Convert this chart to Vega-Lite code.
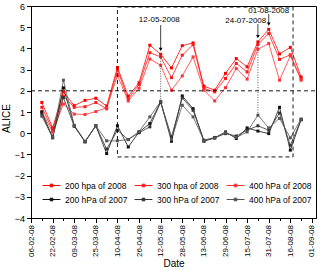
{
  "$schema": "https://vega.github.io/schema/vega-lite/v6.json",
  "width": 285,
  "height": 212,
  "autosize": {"type": "none"},
  "padding": {"left": 31, "top": 6, "right": 4, "bottom": 52},
  "config": {
    "font": "Liberation Sans",
    "view": {"stroke": "black", "strokeWidth": 1},
    "axis": {"domainColor": "black", "tickColor": "black", "labelColor": "black", "titleColor": "black", "grid": false, "titleFontWeight": "normal", "labelOverlap": false}
  },
  "datasets": {
    "main": [
      {"d": "2008/02/14", "r200": 1.45, "r300": 1.22, "r400": 1.02, "k200": 1.0, "k300": 0.9, "k400": 0.8},
      {"d": "2008/02/22", "r200": 0.25, "r300": 0.15, "r400": 0.05, "k200": -0.22, "k300": -0.18, "k400": -0.2},
      {"d": "2008/03/01", "r200": 1.95, "r300": 1.75, "r400": 1.38, "k200": 2.14, "k300": 1.68, "k400": 2.5},
      {"d": "2008/03/09", "r200": 1.3, "r300": 1.22, "r400": 0.9, "k200": 0.35, "k300": 0.33, "k400": 0.37},
      {"d": "2008/03/17", "r200": 1.55, "r300": 1.25, "r400": 0.88, "k200": -0.41, "k300": -0.4, "k400": -0.38},
      {"d": "2008/03/25", "r200": 1.65, "r300": 1.45, "r400": 1.02, "k200": 0.35, "k300": 0.35, "k400": 0.35},
      {"d": "2008/04/02", "r200": 1.28, "r300": 1.15, "r400": 1.2, "k200": -0.96, "k300": -0.75, "k400": -0.36},
      {"d": "2008/04/10", "r200": 3.1, "r300": 2.98, "r400": 2.72, "k200": 0.35, "k300": 0.14, "k400": -0.36},
      {"d": "2008/04/18", "r200": 1.75, "r300": 1.62, "r400": 1.52, "k200": -0.65, "k300": -0.3, "k400": -0.3},
      {"d": "2008/04/26", "r200": 2.38, "r300": 2.3, "r400": 2.12, "k200": 0.05, "k300": 0.02, "k400": 0.08},
      {"d": "2008/05/04", "r200": 4.15, "r300": 3.8, "r400": 3.5, "k200": 0.46, "k300": 0.3, "k400": 0.77},
      {"d": "2008/05/12", "r200": 3.72, "r300": 3.6, "r400": 3.2, "k200": 1.48, "k300": 1.46, "k400": 1.5},
      {"d": "2008/05/20", "r200": 3.08, "r300": 2.62, "r400": 2.03, "k200": -0.38, "k300": -0.17, "k400": -0.3},
      {"d": "2008/05/28", "r200": 4.13, "r300": 3.68, "r400": 2.7, "k200": 1.76, "k300": 1.67, "k400": 1.32},
      {"d": "2008/06/05", "r200": 4.26, "r300": 4.18, "r400": 3.6, "k200": 1.16, "k300": 1.08, "k400": 0.77},
      {"d": "2008/06/13", "r200": 2.22, "r300": 2.11, "r400": 2.03, "k200": -0.38, "k300": -0.33, "k400": -0.35},
      {"d": "2008/06/21", "r200": 2.03, "r300": 1.95, "r400": 1.52, "k200": -0.22, "k300": -0.2, "k400": -0.24},
      {"d": "2008/06/29", "r200": 2.82, "r300": 2.58, "r400": 2.15, "k200": 0.06, "k300": -0.02, "k400": 0.02},
      {"d": "2008/07/07", "r200": 3.52, "r300": 3.29, "r400": 3.05, "k200": -0.25, "k300": -0.13, "k400": -0.2},
      {"d": "2008/07/15", "r200": 3.13, "r300": 2.89, "r400": 2.55, "k200": 0.25, "k300": 0.14, "k400": 0.06},
      {"d": "2008/07/23", "r200": 4.31, "r300": 4.18, "r400": 3.96, "k200": 0.1, "k300": 0.35, "k400": 0.85},
      {"d": "2008/07/31", "r200": 4.9, "r300": 4.7, "r400": 4.23, "k200": -0.02, "k300": 0.14, "k400": 0.25},
      {"d": "2008/08/08", "r200": 3.74, "r300": 3.48, "r400": 2.5, "k200": 1.22, "k300": 0.95, "k400": 0.7},
      {"d": "2008/08/16", "r200": 4.05, "r300": 3.7, "r400": 3.65, "k200": -0.8, "k300": -0.57, "k400": -0.22},
      {"d": "2008/08/24", "r200": 2.65, "r300": 2.55, "r400": 2.5, "k200": 0.65, "k300": 0.63, "k400": 0.67}
    ]
  },
  "encoding": {
    "x": {
      "field": "d", "type": "temporal",
      "scale": {"domain": [{"year": 2008, "month": 2, "date": 6}, {"year": 2008, "month": 9, "date": 4}]},
      "axis": {
        "title": "Date", "titleFontSize": 10, "titlePadding": 2,
        "format": "%d-%m-%y", "labelAngle": -90, "labelFontSize": 8, "labelPadding": 2,
        "labelOverlap": false, "labelBound": false, "labelFlush": false,
        "values": [
          {"year": 2008, "month": 2, "date": 6}, {"year": 2008, "month": 2, "date": 14}, {"year": 2008, "month": 2, "date": 22},
          {"year": 2008, "month": 3, "date": 1}, {"year": 2008, "month": 3, "date": 9}, {"year": 2008, "month": 3, "date": 17},
          {"year": 2008, "month": 3, "date": 25}, {"year": 2008, "month": 4, "date": 2}, {"year": 2008, "month": 4, "date": 10},
          {"year": 2008, "month": 4, "date": 18}, {"year": 2008, "month": 4, "date": 26}, {"year": 2008, "month": 5, "date": 4},
          {"year": 2008, "month": 5, "date": 12}, {"year": 2008, "month": 5, "date": 20}, {"year": 2008, "month": 5, "date": 28},
          {"year": 2008, "month": 6, "date": 5}, {"year": 2008, "month": 6, "date": 13}, {"year": 2008, "month": 6, "date": 21},
          {"year": 2008, "month": 6, "date": 29}, {"year": 2008, "month": 7, "date": 7}, {"year": 2008, "month": 7, "date": 15},
          {"year": 2008, "month": 7, "date": 23}, {"year": 2008, "month": 7, "date": 31}, {"year": 2008, "month": 8, "date": 8},
          {"year": 2008, "month": 8, "date": 16}, {"year": 2008, "month": 8, "date": 24}, {"year": 2008, "month": 9, "date": 1}
        ],
        "labelExpr": "indexof(['06-02-08','22-02-08','09-03-08','25-03-08','10-04-08','26-04-08','12-05-08','28-05-08','13-06-08','29-06-08','15-07-08','31-07-08','16-08-08','01-09-08'], datum.label) >= 0 ? datum.label : ''",
        "tickSize": {"condition": {"test": "indexof(['06-02-08','22-02-08','09-03-08','25-03-08','10-04-08','26-04-08','12-05-08','28-05-08','13-06-08','29-06-08','15-07-08','31-07-08','16-08-08','01-09-08'], timeFormat(datum.value, '%d-%m-%y')) < 0", "value": 2.5}, "value": 4.5}
      }
    },
    "y": {
      "field": "value", "type": "quantitative",
      "scale": {"domain": [-4, 6], "nice": false, "zero": false},
      "axis": {
        "title": "ALICE", "titleFontSize": 10, "titlePadding": 3, "titleY": 112,
        "format": "d",
        "values": [-4, -3.5, -3, -2.5, -2, -1.5, -1, -0.5, 0, 0.5, 1, 1.5, 2, 2.5, 3, 3.5, 4, 4.5, 5, 5.5, 6],
        "labelExpr": "datum.value % 1 === 0 ? datum.label : ''",
        "labelFontSize": 9, "labelPadding": 2, "labelOverlap": false,
        "tickSize": {"condition": {"test": "datum.value % 1 !== 0", "value": 2.5}, "value": 4.5}
      }
    }
  },
  "layer": [
    {
      "data": {"name": "main"},
      "transform": [{"fold": ["r200", "r300", "r400", "k200", "k300", "k400"], "as": ["key", "value"]}],
      "mark": {"type": "line", "strokeWidth": 0.8},
      "encoding": {
        "color": {
          "field": "key", "type": "nominal",
          "scale": {"domain": ["r200", "k200", "r300", "k300", "r400", "k400"], "range": ["#ff0000", "#111111", "#ff1a1a", "#333333", "#ff3333", "#555555"]},
          "legend": {
            "title": null, "orient": "none", "legendX": 11, "legendY": 170, "columns": 3,
            "symbolType": "M-1,0H1M-0.15,-0.15H0.15V0.15H-0.15Z", "symbolSize": 320, "symbolStrokeWidth": 1,
            "labelFontSize": 8.5, "labelOffset": 4, "columnPadding": 4, "rowPadding": 0, "padding": 0,
            "labelExpr": "datum.value === 'r200' ? '200 hpa of 2008' : datum.value === 'r300' ? '300 hpa of 2008' : datum.value === 'r400' ? '400 hPa of 2008' : datum.value === 'k200' ? '200 hPa of 2007' : datum.value === 'k300' ? '300 hPa of 2007' : '400 hPa of 2007'"
          }
        },
        "detail": {"field": "key"}
      }
    },
    {
      "data": {"name": "main"},
      "transform": [{"fold": ["r200", "r300", "r400", "k200", "k300", "k400"], "as": ["key", "value"]}],
      "mark": {"type": "point", "filled": true, "size": 9, "opacity": 1, "shape": "square"},
      "encoding": {
        "color": {"field": "key", "type": "nominal"}
      }
    },
    {
      "data": {"values": [{"d": "2008/04/10", "d2": "2008/08/18", "value": -1.12, "value2": 5.95}]},
      "mark": {"type": "rect", "fill": "transparent", "stroke": "black", "strokeDash": [4, 3], "strokeWidth": 0.9},
      "encoding": {
        "x2": {"field": "d2"},
        "y2": {"field": "value2"}
      }
    },
    {
      "data": {"values": [{"d": "2008/02/06", "d2": "2008/09/04", "value": 2}]},
      "mark": {"type": "rule", "strokeDash": [4, 3], "color": "black", "strokeWidth": 0.9},
      "encoding": {
        "x2": {"field": "d2"}
      }
    },
    {
      "data": {"values": [
        {"d": "2008/05/12", "value": 5.1, "value2": 3.95},
        {"d": "2008/07/23", "value": 5.15, "value2": 4.55},
        {"d": "2008/07/31", "value": 5.62, "value2": 5.15}
      ]},
      "mark": {"type": "rule", "color": "#444444", "strokeWidth": 1},
      "encoding": {
        "y2": {"field": "value2"}
      }
    },
    {
      "data": {"values": [
        {"d": "2008/05/12", "value": 3.95},
        {"d": "2008/07/23", "value": 4.55},
        {"d": "2008/07/31", "value": 5.15}
      ]},
      "mark": {"type": "point", "shape": "triangle-down", "filled": true, "size": 14, "color": "black", "opacity": 1}
    },
    {
      "data": {"values": [
        {"d": "2008/05/12", "value": 3.65, "value2": 1.48},
        {"d": "2008/07/23", "value": 4.3, "value2": 0.85}
      ]},
      "mark": {"type": "rule", "color": "#333333", "strokeWidth": 0.8, "strokeDash": [1, 1.5]},
      "encoding": {
        "y2": {"field": "value2"}
      }
    },
    {
      "data": {"values": [
        {"d": "2008/05/11", "value": 5.33, "t": "12-05-2008"},
        {"d": "2008/07/14", "value": 5.3, "t": "24-07-2008"},
        {"d": "2008/07/31", "value": 5.75, "t": "01-08-2008"}
      ]},
      "mark": {"type": "text", "fontSize": 8, "color": "black", "align": "center", "baseline": "middle"},
      "encoding": {
        "text": {"field": "t"}
      }
    }
  ]
}
